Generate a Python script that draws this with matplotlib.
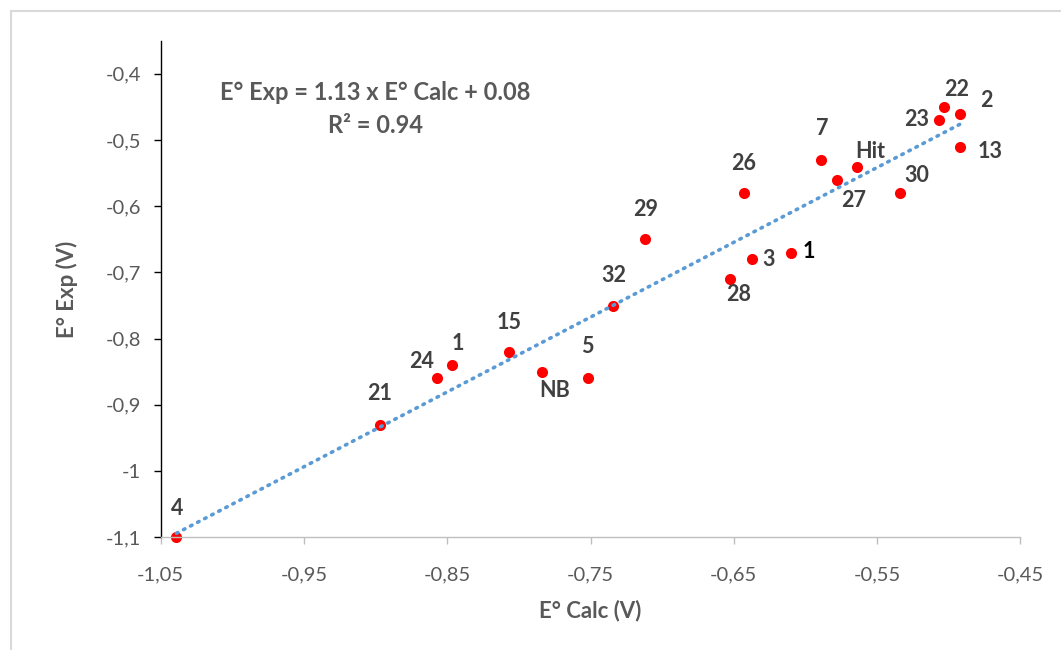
import numpy as np
import matplotlib
matplotlib.use("Agg")
import matplotlib.pyplot as plt
from matplotlib.patches import Rectangle

plt.rcParams['font.family'] = ['Lato', 'DejaVu Sans']

# ---- data ----
labels = ["4", "21", "24", "1", "15", "NB", "5", "32", "29", "28", "26", "3",
          "1", "7", "27", "Hit", "30", "22", "2", "23", "13"]
e_calc = [-1.039, -0.897, -0.857, -0.847, -0.807, -0.784, -0.752, -0.734, -0.712,
          -0.653, -0.643, -0.637, -0.610, -0.589, -0.578, -0.564, -0.534, -0.503,
          -0.492, -0.507, -0.492]
e_exp = [-1.10, -0.93, -0.86, -0.84, -0.82, -0.85, -0.86, -0.75, -0.65,
         -0.71, -0.58, -0.68, -0.67, -0.53, -0.56, -0.54, -0.58, -0.45,
         -0.46, -0.47, -0.51]
x_ticks = [-1.05, -0.95, -0.85, -0.75, -0.65, -0.55, -0.45]
y_ticks = [-1.1, -1.0, -0.9, -0.8, -0.7, -0.6, -0.5, -0.4]
equation = "E° Exp = 1.13 x E° Calc + 0.08"
r2_text = "R² = 0.94"

# ---- layout (label offsets in pixels, dx right, dy up) ----
label_offsets = [(1, 29), (0, 31), (-16, 17), (6, 22), (0, 29), (13, -19), (0, 32),
                 (0, 30), (1, 30), (9, -15), (0, 29), (16, 0), (18, 1), (1, 31),
                 (17, -21), (13, 15), (17, 17), (12, 17), (26, 13), (-22, 1), (30, -5)]
label_colors = ["#404040"] * len(labels)
label_colors[12] = "#000000"

fig = plt.figure(figsize=(10.61, 6.5), dpi=100)
ax = fig.add_axes([160.7 / 1061, 112.7 / 650, 859.7 / 1061, 496.6 / 650])

# outer chart frame (cut off at right/bottom)
fig.add_artist(Rectangle((11 / 1061, -0.2), 1.2, (650 - 11) / 650 + 0.2,
                         transform=fig.transFigure, fill=False,
                         edgecolor="#D9D9D9", lw=1.5))

x = np.array(e_calc)
y = np.array(e_exp)

# trendline
slope, intercept = np.polyfit(x, y, 1)
xl = np.array([x.min(), x.max()])
ax.plot(xl, slope * xl + intercept, color="#5B9BD5", lw=2.6,
        linestyle=(0, (0.45, 1.75)), dash_capstyle="round", zorder=3)

ax.plot(x, y, "o", color="#FF0000", markersize=8, markeredgewidth=0, zorder=2,
        clip_on=False)

for lab, xi, yi, (dx, dy), c in zip(labels, e_calc, e_exp, label_offsets, label_colors):
    ax.annotate(lab, (xi, yi), xytext=(dx, dy), textcoords="offset pixels",
                ha="center", va="center", fontsize=15.5, fontweight="bold",
                color=c)

ax.text(0.2493, 0.8947, equation, transform=ax.transAxes, ha="center",
        va="center", fontsize=17, fontweight="bold", color="#595959")
ax.text(0.2493, 0.830, r2_text, transform=ax.transAxes, ha="center",
        va="center", fontsize=17, fontweight="bold", color="#595959")

ax.set_xlim(-1.05, -0.45)
ax.set_ylim(-1.1, -0.35)
ax.set_xticks(x_ticks)
ax.set_yticks(y_ticks)
ax.set_xticklabels([f"{v:.2f}".replace(".", ",") for v in x_ticks])
ax.set_yticklabels([("%g" % v).replace(".", ",") for v in y_ticks])

for s in ["top", "right"]:
    ax.spines[s].set_visible(False)
ax.spines["left"].set_color("#000000")
ax.spines["left"].set_linewidth(1)
ax.spines["bottom"].set_color("#BFBFBF")
ax.spines["bottom"].set_linewidth(1)
ax.tick_params(axis="y", direction="out", length=5, width=1, color="#000000",
               labelsize=14.5, labelcolor="#595959", pad=9)
ax.tick_params(axis="x", direction="out", length=5, width=1, color="#BFBFBF",
               labelsize=14.5, labelcolor="#595959", pad=16)

ax.set_xlabel("E° Calc (V)", fontsize=16, fontweight="bold", color="#595959", labelpad=12)
ax.set_ylabel("E° Exp (V)", fontsize=16, fontweight="bold", color="#595959", labelpad=20)

fig.savefig("out.png", dpi=100)
